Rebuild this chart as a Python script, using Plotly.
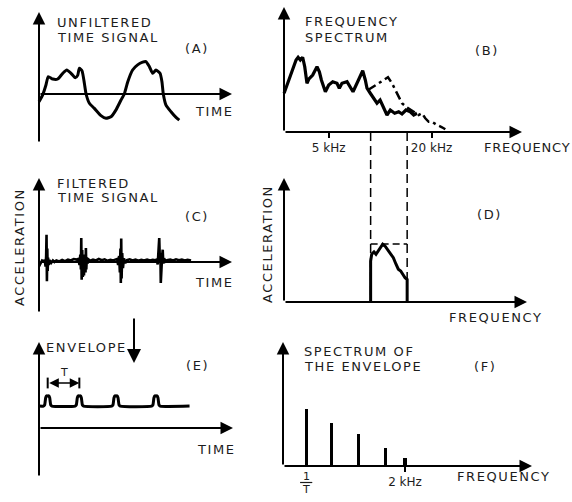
import math
import plotly.graph_objects as go

W, H = 572, 502

# ---------------- data ----------------
# (A) unfiltered time signal: time units, amplitude units
a_time = [0.00, 0.19, 0.36, 0.48, 0.71, 0.97, 1.23, 1.44, 1.66, 1.88,
          2.01, 2.09, 2.23, 2.35, 2.44, 2.61, 2.87, 3.21, 3.47, 3.73,
          3.99, 4.25, 4.42, 4.60, 4.85, 5.11, 5.37, 5.54, 5.72, 5.89,
          6.06, 6.27, 6.37, 6.44, 6.58, 6.84, 7.10, 7.27]
a_amp = [-0.26, -0.03, 0.30, 0.58, 0.50, 0.50, 0.69, 0.80, 0.69, 0.54,
         0.63, 0.86, 0.77, 0.36, 0.00, -0.31, -0.48, -0.72, -0.81, -0.76,
         -0.53, -0.20, 0.00, 0.41, 0.80, 0.97, 1.06, 1.08, 0.91, 0.69,
         0.80, 0.69, 0.41, 0.00, -0.37, -0.59, -0.78, -0.87]

# (B) frequency spectrum, kHz
b_freq = [2.74, 2.85, 3.05, 3.22, 3.31, 3.41, 3.52, 3.62, 3.73, 3.82,
          4.03, 4.27, 4.41, 4.53, 4.78, 5.00, 5.28, 5.59, 5.77, 5.98,
          6.40, 6.69, 6.94, 7.32, 7.66, 7.91, 8.19, 8.38, 8.76, 9.17,
          9.59, 10.0, 10.5, 10.97, 11.47, 12.17, 12.85, 13.43, 14.18, 15.02,
          15.73, 16.44]
b_amp = [1.55, 1.88, 2.41, 2.88, 2.99, 2.88, 2.99, 2.61, 1.95, 2.11,
         2.28, 2.61, 2.41, 2.08, 1.61, 1.88, 2.01, 1.95, 1.75, 1.95,
         2.01, 1.81, 1.61, 1.95, 2.21, 2.45, 2.08, 1.75, 1.55, 1.35,
         1.15, 1.28, 0.95, 0.68, 0.88, 0.75, 0.81, 0.72, 0.88, 0.81,
         0.68, 0.75]
# resonance-excited spectrum (dash-dot)
b2_freq = [8.49, 9.17, 9.81, 10.5, 11.12, 11.74, 12.56, 13.43, 14.18, 15.02,
           15.73, 16.82, 17.59, 18.39, 19.25, 20.13, 21.53, 23.03, 24.08]
b2_amp = [1.68, 1.81, 1.95, 2.08, 2.19, 1.95, 1.55, 1.15, 1.01, 0.88,
          0.81, 0.68, 0.75, 0.55, 0.41, 0.41, 0.28, 0.19, 0.11]
b_tick_vals = [5, 20]
b_tick_text = ["5 kHz", "20 kHz"]

# band-pass filter edges, kHz
band = [8.8, 14.4]

# (C) filtered time signal
c_time = [0.00, 0.08, 0.16, 0.24, 0.30, 0.34, 0.37, 0.39, 0.41, 0.43,
          0.45, 0.47, 0.50, 0.55, 0.63, 0.72, 0.80,
          0.90, 1.05, 1.20, 1.35, 1.50, 1.65, 1.80, 1.95,
          2.04, 2.10, 2.14, 2.17, 2.19, 2.21, 2.24, 2.27, 2.30, 2.33,
          2.37, 2.41, 2.43, 2.45, 2.48, 2.52, 2.58, 2.66,
          2.80, 2.95, 3.10, 3.25, 3.40, 3.55, 3.70, 3.85, 3.95,
          4.05, 4.10, 4.15, 4.19, 4.22, 4.24, 4.26, 4.28, 4.31, 4.35,
          4.40, 4.47, 4.56,
          4.70, 4.85, 5.00, 5.15, 5.30, 5.45, 5.60, 5.75, 5.90, 6.02,
          6.10, 6.15, 6.19, 6.21, 6.23, 6.26, 6.29, 6.31, 6.34, 6.38,
          6.41, 6.44, 6.48, 6.55, 6.63,
          6.80, 6.95, 7.10, 7.25, 7.40, 7.55, 7.70, 7.88]
c_amp = [-0.15, -0.05, 0.05, 0.02, 0.06, -0.15, 0.20, 0.91, -0.64, 0.45,
         -0.30, 0.15, -0.10, 0.06, -0.03, 0.05, 0.00,
         0.05, 0.02, 0.07, 0.03, 0.08, 0.05, 0.10, 0.08,
         0.10, -0.10, 0.25, -0.25, 0.80, -0.59, 0.40, -0.50, 0.25, -0.45,
         0.20, -0.35, 0.47, -0.25, 0.15, -0.05, 0.08, 0.04,
         0.08, 0.05, 0.10, 0.06, 0.09, 0.04, 0.07, 0.05, 0.08,
         0.10, -0.10, 0.20, -0.35, 0.45, -0.70, 0.78, -0.55, 0.30, -0.20,
         0.12, -0.04, 0.06,
         0.09, 0.05, 0.08, 0.04, 0.07, 0.05, 0.08, 0.05, 0.07, 0.06,
         0.08, -0.08, 0.30, 0.55, 0.80, 0.10, 0.30, -0.70, 0.05, 0.20,
         0.41, -0.05, 0.12, 0.02, 0.06,
         0.08, 0.05, 0.09, 0.06, 0.08, 0.05, 0.07, 0.05]

# (D) filtered spectrum
d_freq = [8.8, 8.8, 8.93, 9.21, 9.46, 9.89, 10.36, 10.68, 11.02, 11.53,
          11.95, 12.39, 12.78, 13.2, 13.56, 13.99, 14.4, 14.4]
d_amp = [0.0, 1.64, 1.91, 2.00, 1.91, 2.11, 2.31, 2.24, 2.11, 1.91,
         1.77, 1.51, 1.31, 1.24, 1.11, 0.97, 0.90, 0.0]
d_pass_level = 2.32

# (E) envelope: pulse times, levels, and the shape of one pulse
e_peaks = [0.45, 2.09, 3.99, 6.06]
e_base, e_top, e_end = 0.73, 1.07, 7.80
e_pulse_dt = [-0.22, -0.16, -0.13, -0.10, -0.05, 0.0, 0.05, 0.10, 0.13, 0.16, 0.22]
e_pulse_h = [0.0, 0.10, 0.45, 0.85, 1.0, 1.0, 1.0, 0.85, 0.45, 0.10, 0.0]

# (F) spectrum of the envelope, kHz
f_harm = [0.38, 0.79, 1.23, 1.68, 2.0]
f_amp = [2.27, 1.73, 1.27, 0.73, 0.31]
f_tick_vals = [2]
f_tick_text = ["2 kHz"]

# ---------------- panel geometry (pixels) ----------------
LOG0 = math.log10(2.737)
panels = {
    "A": dict(n=1, origin=(39, 94), sx=19.3, sy=30, box=(30, 6, 242, 150)),
    "B": dict(n=2, origin=(284, 132), sx=170.8, sy=25, box=(278, 4, 530, 132), log=True),
    "C": dict(n=3, origin=(39, 262), sx=19.3, sy=30, box=(30, 172, 242, 318)),
    "D": dict(n=4, origin=(284, 302), sx=170.8, sy=25, box=(278, 174, 535, 302), log=True),
    "E": dict(n=5, origin=(39, 428), sx=19.3, sy=30, box=(30, 338, 242, 482)),
    "F": dict(n=6, origin=(283, 466), sx=61.0, sy=25, box=(277, 338, 540, 466)),
}

fig = go.Figure()
INK = "black"
TXT = "#1c1c1c"
FONT = "DejaVu Sans"

for key, p in panels.items():
    sfx = "" if p["n"] == 1 else str(p["n"])
    ox, oy = p["origin"]
    x0, y0, x1, y1 = p["box"]
    xo = LOG0 if p.get("log") else 0.0
    xr = [xo + (x0 - ox) / p["sx"], xo + (x1 - ox) / p["sx"]]
    yr = [(oy - y1) / p["sy"], (oy - y0) / p["sy"]]
    fig.layout["xaxis" + sfx] = dict(
        domain=[x0 / W, x1 / W], range=xr, anchor="y" + sfx,
        type="log" if p.get("log") else "linear",
        showgrid=False, zeroline=False, showline=False, showticklabels=False,
        ticks="", fixedrange=True)
    fig.layout["yaxis" + sfx] = dict(
        domain=[1 - y1 / H, 1 - y0 / H], range=yr, anchor="x" + sfx,
        showgrid=False, zeroline=False, showline=False, showticklabels=False,
        ticks="", fixedrange=True)

# tick marks and labels on the frequency axes of (B) and (F)
tick_style = dict(ticks="outside", ticklen=5, tickwidth=1.6, tickcolor=INK,
                  showticklabels=True, tickfont=dict(family=FONT, size=12, color=TXT))
fig.layout.xaxis2.update(tickvals=b_tick_vals, ticktext=b_tick_text, **tick_style)
fig.layout.xaxis6.update(tickvals=f_tick_vals, ticktext=f_tick_text, **tick_style)

# (A)
fig.add_trace(go.Scatter(x=a_time, y=a_amp, mode="lines", xaxis="x", yaxis="y",
                         line=dict(color=INK, width=3, shape="spline", smoothing=0.5)))
# (B)
fig.add_trace(go.Scatter(x=b2_freq, y=b2_amp, mode="lines", xaxis="x2", yaxis="y2",
                         line=dict(color=INK, width=2.5, dash="9px,4px,3px,4px")))
fig.add_trace(go.Scatter(x=b_freq, y=b_amp, mode="lines", xaxis="x2", yaxis="y2",
                         line=dict(color=INK, width=3.2)))
# (C)
fig.add_trace(go.Scatter(x=c_time, y=c_amp, mode="lines", xaxis="x3", yaxis="y3",
                         line=dict(color=INK, width=2.6)))
# (D)
fig.add_trace(go.Scatter(x=d_freq, y=d_amp, mode="lines", xaxis="x4", yaxis="y4",
                         line=dict(color=INK, width=3)))
# (E)
ex, ey = [0.0], [e_base]
for c in e_peaks:
    for dt, h in zip(e_pulse_dt, e_pulse_h):
        ex.append(c + dt)
        ey.append(e_base + h * (e_top - e_base))
ex.append(e_end)
ey.append(e_base)
fig.add_trace(go.Scatter(x=ex, y=ey, mode="lines", xaxis="x5", yaxis="y5",
                         line=dict(color=INK, width=3, shape="spline", smoothing=0.6)))
# (F)
fig.add_trace(go.Bar(x=f_harm, y=f_amp, width=0.05, xaxis="x6", yaxis="y6",
                     marker=dict(color=INK, line=dict(width=0))))


def arrow(tail, tip, width=2.0, size=1.25, head=2):
    fig.add_annotation(x=tip[0] / W, y=1 - tip[1] / H, xref="paper", yref="paper",
                       ax=tail[0] - tip[0], ay=tail[1] - tip[1], axref="pixel", ayref="pixel",
                       showarrow=True, arrowhead=head, arrowsize=size, arrowwidth=width,
                       arrowcolor=INK, text="")


def label(x, y, s, anchor="left", size=13, angle=0, spacing=1.6):
    fig.add_annotation(x=x / W, y=1 - y / H, xref="paper", yref="paper",
                       text=f'<span style="letter-spacing:{spacing}px">{s}</span>',
                       showarrow=False, xanchor=anchor, yanchor="middle", textangle=angle,
                       font=dict(family=FONT, size=size, color=TXT))


# axes with arrowheads
arrow((39, 94), (232, 94))
arrow((39, 143), (39, 12))
arrow((284, 132), (522, 132))
arrow((284, 132), (284, 7))
arrow((39, 262), (232, 262))
arrow((39, 313), (39, 178))
arrow((284, 302), (527, 302))
arrow((284, 302), (284, 178))
arrow((39, 428), (233, 428))
arrow((39, 477), (39, 342))
arrow((283, 466), (532, 466))
arrow((283, 466), (283, 342))
# from filtered signal to its envelope
arrow((134, 317), (134, 363), width=2.0, size=1.4)

# filter band carried from (B) down to (D)
for f in band:
    fig.add_shape(type="line", xref="x2", yref="paper",
                  x0=f, x1=f,
                  y0=1 - 132 / H, y1=1 - 302 / H,
                  line=dict(color=INK, width=1.5, dash="9px,5px"))
fig.add_shape(type="line", xref="x4", yref="y4",
              x0=band[0], x1=band[1],
              y0=d_pass_level, y1=d_pass_level,
              line=dict(color=INK, width=1.5, dash="7px,4px"))

# period marker in (E)
fig.add_annotation(x=e_peaks[1], y=1.5, xref="x5", yref="y5",
                   ax=e_peaks[0], ay=1.5, axref="x5", ayref="y5",
                   showarrow=True, arrowhead=2, arrowside="end+start",
                   arrowsize=1.2, arrowwidth=1.6, arrowcolor=INK, text="")
for t in e_peaks[:2]:
    fig.add_shape(type="line", xref="x5", yref="y5", x0=t, x1=t, y0=1.32, y1=1.68,
                  line=dict(color=INK, width=2))
fig.add_annotation(x=(e_peaks[0] + e_peaks[1]) / 2, y=1.85, xref="x5", yref="y5",
                   text="T", showarrow=False, font=dict(family=FONT, size=11, color=TXT))

# 1/T label under the first harmonic in (F)
fig.add_annotation(x=f_harm[0], y=1 - 476 / H, xref="x6", yref="paper", text="1",
                   showarrow=False, yanchor="middle", font=dict(family=FONT, size=11, color=TXT))
fig.add_annotation(x=f_harm[0], y=1 - 489 / H, xref="x6", yref="paper", text="T",
                   showarrow=False, yanchor="middle", font=dict(family=FONT, size=11, color=TXT))
fig.add_shape(type="line", xref="x6", yref="paper", x0=f_harm[0] - 0.1, x1=f_harm[0] + 0.1,
              y0=1 - 482.5 / H, y1=1 - 482.5 / H, line=dict(color=TXT, width=1.2))

# titles and axis names
label(55, 22.5, "UNFILTERED")
label(55, 37, "TIME SIGNAL")
label(183, 48, "(A)")
label(193, 111.5, "TIME")

label(303, 22, "FREQUENCY")
label(303, 37, "SPECTRUM")
label(473, 50.5, "(B)")
label(482, 147.5, "FREQUENCY", spacing=0.8)

label(55, 183, "FILTERED")
label(55, 197.5, "TIME SIGNAL")
label(183, 216, "(C)")
label(193, 282, "TIME")
label(19, 247, "ACCELERATION", anchor="center", angle=-90)

label(475, 214.5, "(D)")
label(447, 317, "FREQUENCY")
label(267, 244, "ACCELERATION", anchor="center", angle=-90)

label(44, 347.5, "ENVELOPE")
label(184, 365, "(E)")
label(195, 449, "TIME")

label(302, 351, "SPECTRUM OF")
label(302, 366, "THE ENVELOPE")
label(472, 366, "(F)")
label(455, 476.5, "FREQUENCY")

fig.update_layout(width=W, height=H, margin=dict(l=0, r=0, t=0, b=0),
                  paper_bgcolor="white", plot_bgcolor="rgba(0,0,0,0)",
                  showlegend=False, bargap=0)

fig.write_html("out.html")
